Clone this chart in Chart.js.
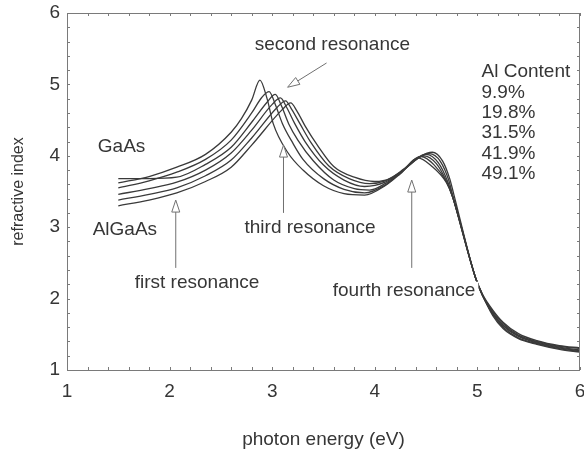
<!DOCTYPE html>
<html>
<head>
<meta charset="utf-8">
<script src="https://cdn.jsdelivr.net/npm/chart.js@4/dist/chart.umd.min.js"></script>
<style>
  html, body { margin: 0; padding: 0; background: #fff; }
</style>
</head>
<body>
<canvas id="chart" width="584" height="453"></canvas>
<script>
// refractive index of GaAs and AlGaAs vs photon energy
const seriesNames = ['GaAs', '9.9%', '19.8%', '31.5%', '41.9%', '49.1%'];

const gaasE = [1.5, 1.8, 2.07, 2.35, 2.6, 2.7, 2.8, 2.88, 2.95, 3.01, 3.15, 3.3, 3.5, 3.7, 3.9, 4.1, 4.25, 4.42, 4.55, 4.7, 4.76, 4.98, 5.05, 5.15, 5.25, 5.4, 5.58, 5.8, 6.0];
const gaasN = [3.62, 3.71, 3.84, 4.02, 4.33, 4.52, 4.78, 5.06, 4.8, 4.45, 4.05, 3.8, 3.58, 3.47, 3.45, 3.58, 3.75, 3.97, 3.86, 3.62, 3.42, 2.3, 2.05, 1.76, 1.58, 1.44, 1.36, 1.29, 1.25];

const al099E = [1.5, 1.8, 2.07, 2.35, 2.6, 2.8, 2.9, 2.97, 3.03, 3.1, 3.2, 3.3, 3.5, 3.7, 3.9, 4.1, 4.25, 4.45, 4.58, 4.7, 4.76, 4.98, 5.05, 5.15, 5.25, 5.4, 5.58, 5.8, 6.0];
const al099N = [3.55, 3.65, 3.77, 3.95, 4.22, 4.6, 4.82, 4.9, 4.72, 4.45, 4.18, 3.95, 3.68, 3.53, 3.48, 3.59, 3.76, 3.99, 3.87, 3.63, 3.42, 2.3, 2.05, 1.78, 1.6, 1.45, 1.37, 1.3, 1.26];

const al198E = [1.5, 1.8, 2.07, 2.35, 2.6, 2.8, 2.95, 3.03, 3.09, 3.16, 3.25, 3.4, 3.6, 3.8, 3.95, 4.1, 4.25, 4.48, 4.6, 4.7, 4.76, 4.98, 5.05, 5.15, 5.25, 5.4, 5.58, 5.8, 6.0];
const al198N = [3.68, 3.68, 3.7, 3.88, 4.12, 4.47, 4.75, 4.86, 4.7, 4.45, 4.22, 3.93, 3.66, 3.54, 3.52, 3.61, 3.76, 4.0, 3.89, 3.64, 3.42, 2.3, 2.04, 1.79, 1.62, 1.47, 1.38, 1.31, 1.27];

const al315E = [1.5, 1.8, 2.07, 2.35, 2.6, 2.8, 3.0, 3.08, 3.14, 3.22, 3.32, 3.5, 3.7, 3.9, 4.1, 4.25, 4.5, 4.62, 4.71, 4.76, 4.98, 5.05, 5.15, 5.25, 5.4, 5.58, 5.8, 6.0];
const al315N = [3.46, 3.54, 3.63, 3.8, 4.04, 4.36, 4.72, 4.81, 4.68, 4.45, 4.2, 3.87, 3.66, 3.57, 3.63, 3.77, 4.02, 3.9, 3.64, 3.42, 2.3, 2.04, 1.8, 1.63, 1.48, 1.39, 1.32, 1.28];

const al419E = [1.5, 1.8, 2.07, 2.35, 2.6, 2.8, 3.05, 3.13, 3.19, 3.27, 3.38, 3.55, 3.75, 3.95, 4.1, 4.25, 4.53, 4.64, 4.72, 4.76, 4.98, 5.05, 5.15, 5.25, 5.4, 5.58, 5.8, 6.0];
const al419N = [3.38, 3.46, 3.55, 3.72, 3.94, 4.25, 4.68, 4.77, 4.65, 4.45, 4.18, 3.86, 3.68, 3.61, 3.65, 3.77, 4.03, 3.92, 3.66, 3.44, 2.3, 2.05, 1.82, 1.65, 1.49, 1.4, 1.33, 1.3];

const al491E = [1.5, 1.8, 2.07, 2.35, 2.6, 2.8, 3.1, 3.18, 3.24, 3.32, 3.44, 3.6, 3.8, 4.0, 4.15, 4.25, 4.56, 4.66, 4.73, 4.77, 4.98, 5.05, 5.15, 5.25, 5.4, 5.58, 5.8, 6.0];
const al491N = [3.3, 3.38, 3.48, 3.64, 3.84, 4.15, 4.65, 4.74, 4.63, 4.42, 4.15, 3.85, 3.7, 3.64, 3.68, 3.78, 4.05, 3.93, 3.68, 3.46, 2.3, 2.06, 1.84, 1.67, 1.51, 1.41, 1.34, 1.31];

const energies = [gaasE, al099E, al198E, al315E, al419E, al491E];
const indices = [gaasN, al099N, al198N, al315N, al419N, al491N];

const xTicks = [1, 2, 3, 4, 5, 6];
const yTicks = [1, 2, 3, 4, 5, 6];
const legendTitle = 'Al Content';
const legendItems = ['9.9%', '19.8%', '31.5%', '41.9%', '49.1%'];

const FONT = "'Liberation Sans', Arial, sans-serif";
const INK = '#363636';

// text notes and arrows placed in data units (energy, index)
const notes = [
  { text: 'second resonance', e: 2.83, n: 5.55 },
  { text: 'third resonance', e: 2.73, n: 2.99 },
  { text: 'first resonance', e: 1.66, n: 2.22 },
  { text: 'fourth resonance', e: 3.59, n: 2.11, mask: true },
  { text: 'GaAs', e: 1.30, n: 4.12 },
  { text: 'AlGaAs', e: 1.25, n: 2.97 }
];
const arrows = [
  { from: [3.53, 5.30], to: [3.15, 4.96] },
  { from: [3.11, 3.20], to: [3.11, 4.15] },
  { from: [2.06, 2.43], to: [2.06, 3.38] },
  { from: [4.36, 2.43], to: [4.36, 3.66] }
];

const datasets = seriesNames.map((name, i) => ({
  label: name,
  data: energies[i].map((e, j) => ({ x: e, y: indices[i][j] })),
  borderColor: '#3a3a3a',
  borderWidth: 1.3,
  pointRadius: 0,
  fill: false,
  cubicInterpolationMode: 'monotone'
}));

const decorations = {
  id: 'decorations',
  afterDatasetsDraw(chart) {
    const { ctx, chartArea: a, scales: { x, y } } = chart;
    ctx.save();

    // frame with small inward ticks on every side
    ctx.strokeStyle = '#7a7a7a';
    ctx.lineWidth = 1;
    ctx.strokeRect(a.left + 0.5, a.top + 0.5, a.right - a.left - 1, a.bottom - a.top);
    ctx.beginPath();
    for (let k = 0; k <= 25; k++) {
      const px = Math.round(x.getPixelForValue(xTicks[0] + k * 0.2)) + 0.5;
      ctx.moveTo(px, a.bottom); ctx.lineTo(px, a.bottom - 3);
      ctx.moveTo(px, a.top); ctx.lineTo(px, a.top + 3);
      const py = Math.round(y.getPixelForValue(yTicks[0] + k * 0.2)) + 0.5;
      ctx.moveTo(a.left, py); ctx.lineTo(a.left + 3, py);
      ctx.moveTo(a.right, py); ctx.lineTo(a.right - 3, py);
    }
    ctx.stroke();

    // notes
    ctx.font = '19px ' + FONT;
    ctx.textBaseline = 'middle';
    ctx.textAlign = 'left';
    notes.forEach(n => {
      const px = x.getPixelForValue(n.e);
      const py = y.getPixelForValue(n.n);
      if (n.mask) {
        const w = ctx.measureText(n.text).width;
        ctx.fillStyle = '#fff';
        ctx.fillRect(px - 1, py - 9, w + 4, 18);
      }
      ctx.fillStyle = INK;
      ctx.fillText(n.text, px, py);
    });

    // arrows with hollow heads
    ctx.strokeStyle = '#707070';
    ctx.lineWidth = 1;
    arrows.forEach(ar => {
      const x0 = x.getPixelForValue(ar.from[0]), y0 = y.getPixelForValue(ar.from[1]);
      const x1 = x.getPixelForValue(ar.to[0]), y1 = y.getPixelForValue(ar.to[1]);
      const ang = Math.atan2(y1 - y0, x1 - x0);
      const len = 12, half = 4;
      const bx = x1 - Math.cos(ang) * len, by = y1 - Math.sin(ang) * len;
      ctx.beginPath();
      ctx.moveTo(x0, y0); ctx.lineTo(bx, by);
      ctx.stroke();
      ctx.beginPath();
      ctx.moveTo(x1, y1);
      ctx.lineTo(bx + Math.sin(ang) * half, by - Math.cos(ang) * half);
      ctx.lineTo(bx - Math.sin(ang) * half, by + Math.cos(ang) * half);
      ctx.closePath();
      ctx.fillStyle = '#fff';
      ctx.fill();
      ctx.stroke();
    });

    // composition list
    ctx.fillStyle = INK;
    const lx = x.getPixelForValue(5.04);
    const ly = y.getPixelForValue(5.17);
    ctx.fillText(legendTitle, lx, ly);
    legendItems.forEach((t, i) => ctx.fillText(t, lx, ly + 20.3 * (i + 1)));

    ctx.restore();
  }
};

new Chart(document.getElementById('chart'), {
  type: 'line',
  data: { datasets },
  options: {
    responsive: false,
    animation: false,
    layout: { padding: { top: 13, right: 4, left: 0, bottom: 0 } },
    plugins: { legend: { display: false }, tooltip: { enabled: false } },
    scales: {
      x: {
        type: 'linear',
        min: xTicks[0],
        max: xTicks[xTicks.length - 1],
        afterBuildTicks: s => { s.ticks = xTicks.map(v => ({ value: v })); },
        afterFit: s => { s.height = 83; s.paddingLeft = 0; s.paddingRight = 0; },
        grid: { display: false, drawTicks: false },
        border: { display: false },
        ticks: { color: INK, font: { family: FONT, size: 19 }, padding: 10, maxRotation: 0 },
        title: {
          display: true,
          text: 'photon energy (eV)',
          color: INK,
          font: { family: FONT, size: 19 },
          padding: { top: 0, bottom: 2 }
        }
      },
      y: {
        type: 'linear',
        min: yTicks[0],
        max: yTicks[yTicks.length - 1],
        afterBuildTicks: s => { s.ticks = yTicks.map(v => ({ value: v })); },
        afterFit: s => { s.width = 67; s.paddingTop = 0; s.paddingBottom = 0; },
        grid: { display: false, drawTicks: false },
        border: { display: false },
        ticks: { color: INK, font: { family: FONT, size: 19 }, padding: 7 },
        title: {
          display: true,
          text: 'refractive index',
          color: INK,
          font: { family: FONT, size: 16 },
          padding: { top: 9, bottom: 0 }
        }
      }
    }
  },
  plugins: [decorations]
});
</script>
</body>
</html>
